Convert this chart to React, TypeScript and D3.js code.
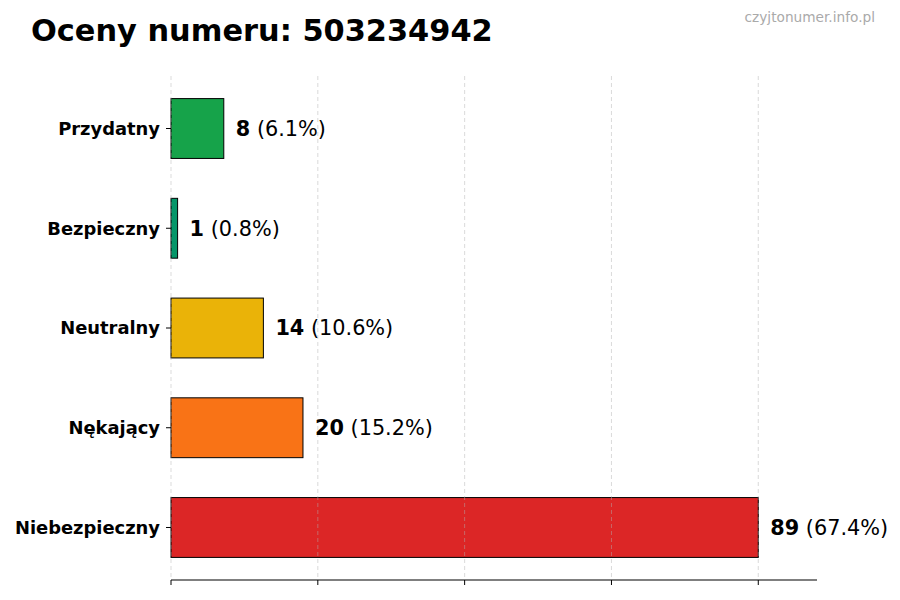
import { useEffect, useRef } from "react"
import * as d3 from "d3"

const categories = ["Przydatny", "Bezpieczny", "Neutralny", "Nękający", "Niebezpieczny"]
const counts = [8, 1, 14, 20, 89]
const colours = ["#16a34a", "#059669", "#eab308", "#f97316", "#dc2626"]

const W = 900, H = 600
const M = { left: 171, right: 817, top: 76, bottom: 580 }
const FONT = "DejaVu Sans, sans-serif"

export default function App() {
  const ref = useRef<SVGSVGElement>(null)
  useEffect(() => {
    if (!ref.current) return
    const svg = d3.select(ref.current)
    svg.selectAll("*").remove()
    const total = d3.sum(counts)
    const max = d3.max(counts) ?? 1

    const x = d3.scaleLinear().domain([0, max * 1.1]).range([M.left, M.right])
    const y = d3.scaleBand<string>().domain(categories).range([M.top, M.bottom])
      .paddingInner(0.4).paddingOuter(0.2265)
    const ticks = d3.range(5).map(i => (max / 4) * i)

    // title + watermark
    svg.append("text").attr("x", 31).attr("y", 41).style("font-family", FONT)
      .style("font-size", "30.4px").style("font-weight", "700").style("fill", "#000")
      .text("Oceny numeru: 503234942")
    svg.append("text").attr("x", 875).attr("y", 22).attr("text-anchor", "end").style("font-family", FONT)
      .style("font-size", "13.7px").style("fill", "#aaa").text("czyjtonumer.info.pl")

    // bars
    svg.append("g").selectAll("rect").data(counts).join("rect")
      .attr("x", x(0)).attr("y", (_, i) => y(categories[i])!)
      .attr("width", d => x(d) - x(0)).attr("height", y.bandwidth())
      .attr("fill", (_, i) => colours[i]).attr("stroke", "#000").attr("stroke-width", 1)

    // grid (drawn over bars)
    svg.append("g").selectAll("line").data(ticks).join("line")
      .attr("x1", d => x(d)).attr("x2", d => x(d)).attr("y1", M.top).attr("y2", M.bottom)
      .attr("stroke", "#b0b0b0").attr("stroke-opacity", 0.6).attr("stroke-dasharray", "4,3").attr("stroke-width", 0.8)

    // x axis: spine + ticks, no labels
    const xa = svg.append("g").attr("transform", `translate(0,${M.bottom})`)
    xa.append("line").attr("x1", M.left).attr("x2", M.right).attr("stroke", "#000").attr("stroke-width", 1.2)
    xa.selectAll("line.t").data(ticks).join("line").attr("class", "t")
      .attr("x1", d => x(d)).attr("x2", d => x(d)).attr("y1", 0).attr("y2", 5)
      .attr("stroke", "#000").attr("stroke-width", 1)

    // y labels + ticks
    const ya = svg.append("g")
    categories.forEach(c => {
      const cy = y(c)! + y.bandwidth() / 2
      ya.append("line").attr("x1", M.left - 5).attr("x2", M.left).attr("y1", cy).attr("y2", cy).attr("stroke", "#000")
      ya.append("text").attr("x", M.left - 11).attr("y", cy).attr("dy", "0.36em").attr("text-anchor", "end")
        .style("font-family", FONT).style("font-size", "17.9px").style("font-weight", "700").text(c)
    })

    // value labels
    counts.forEach((d, i) => {
      const cy = y(categories[i])! + y.bandwidth() / 2
      const t = svg.append("text").attr("x", x(d) + 12).attr("y", cy).attr("dy", "0.36em")
        .style("font-family", FONT).style("font-size", "20.8px")
      t.append("tspan").style("font-weight", "700").text(String(d))
      t.append("tspan").text(` (${((d / total) * 100).toFixed(1)}%)`)
    })
  }, [])
  return <svg ref={ref} width={W} height={H} style={{ position: "absolute", left: 0, top: 0, background: "#fff" }} />
}
